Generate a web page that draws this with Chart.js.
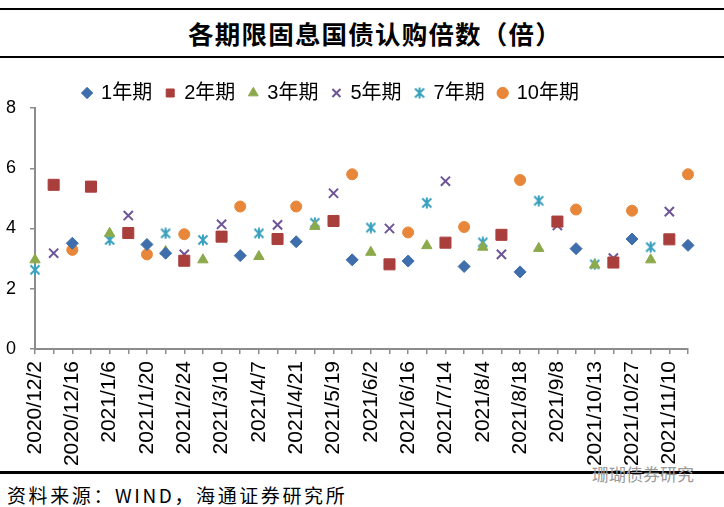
<!DOCTYPE html>
<html>
<head>
<meta charset="utf-8">
<script src="https://cdn.jsdelivr.net/npm/chart.js@4.4.0/dist/chart.umd.min.js"></script>
<style>
  body { margin: 0; background: #fff; }
  #wrap { position: relative; width: 724px; height: 507px; overflow: hidden; font-family: "Noto Sans CJK SC", sans-serif; }
  .rule { position: absolute; left: 0; width: 724px; background: #000; }
  #title { position: absolute; top: 16px; left: 13px; width: 724px; text-align: center; font-size: 25.5px; font-weight: bold; line-height: 34px; letter-spacing: 1.2px; color: #000; }
  #source { position: absolute; top: 481px; left: 7px; font-size: 19px; line-height: 28px; letter-spacing: 2.6px; color: #000; white-space: nowrap; }
  #mark { position: absolute; top: 462px; left: 592px; font-size: 17px; line-height: 24px; color: #9a9a9a; white-space: nowrap; }
  canvas { position: absolute; left: 0; top: 0; }
</style>
</head>
<body>
<div id="wrap">
  <div class="rule" style="top:8px;height:2px"></div>
  <div id="title">各期限固息国债认购倍数（倍）</div>
  <div class="rule" style="top:56px;height:2px"></div>
  <div class="rule" style="top:471px;height:3px"></div>
  <div id="mark">珊瑚债券研究</div>
  <div id="source">资料来源：WIND，海通证券研究所</div>
  <canvas id="chart" width="724" height="507"></canvas>
</div>
<script>
// auction dates (only every other one is labelled on the axis)
const dates = [
  "2020/12/2", "2020/12/9", "2020/12/16", "2020/12/23", "2021/1/6", "2021/1/13",
  "2021/1/20", "2021/2/3", "2021/2/24", "2021/3/3", "2021/3/10", "2021/3/24",
  "2021/4/7", "2021/4/14", "2021/4/21", "2021/5/12", "2021/5/19", "2021/5/26",
  "2021/6/2", "2021/6/9", "2021/6/16", "2021/7/7", "2021/7/14", "2021/7/21",
  "2021/8/4", "2021/8/11", "2021/8/18", "2021/8/25", "2021/9/8", "2021/9/15",
  "2021/10/13", "2021/10/20", "2021/10/27", "2021/11/3", "2021/11/10", "2021/11/17"
];

const y1 = [null, null, 3.51, null, null, null, 3.47, 3.18, null, null, null, 3.10,
            null, null, 3.56, null, null, 2.96, null, null, 2.92, null, null, 2.74,
            null, null, 2.56, null, null, 3.33, null, null, 3.65, null, null, 3.44];
const y2 = [null, 5.45, null, 5.39, null, 3.85, null, null, 2.93, null, 3.73, null,
            null, 3.65, null, null, 4.25, null, null, 2.81, null, null, 3.53, null,
            null, 3.79, null, null, 4.23, null, null, 2.87, null, null, 3.64, null];
const y3 = [2.96, null, null, null, 3.84, null, null, 3.24, null, 2.96, null, null,
            3.07, null, null, 4.07, null, null, 3.21, null, null, 3.43, null, null,
            3.38, null, null, 3.34, null, null, 2.79, null, null, 2.96, null, null];
const y5 = [null, 3.18, null, null, null, 4.43, null, null, 3.14, null, 4.14, null,
            null, 4.12, null, null, 5.17, null, null, 4.00, null, null, 5.57, null,
            null, 3.14, null, null, 4.10, null, null, 3.02, null, null, 4.56, null];
const y7 = [2.63, null, null, null, 3.62, null, null, 3.84, null, 3.62, null, null,
            3.84, null, null, 4.19, null, null, 4.03, null, null, 4.85, null, null,
            3.54, null, null, 4.92, null, null, 2.81, null, null, 3.38, null, null];
const y10 = [null, null, 3.29, null, null, null, 3.14, null, 3.81, null, null, 4.73,
             null, null, 4.73, null, null, 5.80, null, null, 3.87, null, null, 4.05,
             null, null, 5.61, null, null, 4.63, null, null, 4.59, null, null, 5.80];

const yTicks = [0, 2, 4, 6, 8];

// excel style star marker: x plus a vertical bar
function starMarker(color) {
  const c = document.createElement('canvas');
  c.width = 12; c.height = 12;
  const g = c.getContext('2d');
  g.strokeStyle = color;
  g.lineWidth = 2;
  g.beginPath();
  g.moveTo(1.5, 1.5); g.lineTo(10.5, 10.5);
  g.moveTo(10.5, 1.5); g.lineTo(1.5, 10.5);
  g.moveTo(6, 0.5); g.lineTo(6, 11.5);
  g.stroke();
  return c;
}

function series(label, data, color, style, radius, bw) {
  return {
    label: label,
    data: data,
    showLine: false,
    pointStyle: style,
    pointRadius: radius,
    pointHoverRadius: radius,
    pointBorderWidth: bw,
    backgroundColor: color,
    borderColor: color
  };
}

// the legend in the original sits a little left of centre
const legendShift = {
  id: 'legendShift',
  afterLayout(chart) {
    if (chart.legend) {
      chart.legend.left -= 13;
      chart.legend.right -= 13;
    }
  }
};

const grey = '#8c8c8c';
const latin = '"Liberation Sans", Arial, sans-serif';

const ctx = document.getElementById('chart').getContext('2d');
const chart = new Chart(ctx, {
  type: 'line',
  data: {
    labels: dates,
    datasets: [
      series('1年期', y1, '#3f6ead', 'rectRot', 6, 1),
      series('2年期', y2, '#a93f3c', 'rect', 7.8, 1),
      series('3年期', y3, '#8caa4c', 'triangle', 6, 1),
      series('5年期', y5, '#6e5597', 'crossRot', 6.5, 2),
      series('7年期', y7, '#39a0bd', starMarker('#39a0bd'), 6, 2),
      series('10年期', y10, '#e8873a', 'circle', 5.5, 1)
    ]
  },
  plugins: [legendShift],
  options: {
    responsive: false,
    animation: false,
    layout: {
      padding: { top: 69, right: 36, left: 0, bottom: 0 }
    },
    scales: {
      x: {
        offset: false,
        grid: {
          drawOnChartArea: false,
          tickLength: 5,
          color: grey,
          lineWidth: 1.5
        },
        border: { color: grey, width: 2 },
        ticks: {
          autoSkip: false,
          minRotation: 90,
          maxRotation: 90,
          padding: 7,
          color: '#000',
          font: { family: latin, size: 21 },
          callback: (v, i) => (i % 2 === 0 ? dates[i] : '')
        },
        afterFit: (s) => { s.height = 158; }
      },
      y: {
        min: yTicks[0],
        max: yTicks[yTicks.length - 1],
        afterBuildTicks: (s) => { s.ticks = yTicks.map(v => ({ value: v })); },
        grid: {
          drawOnChartArea: false,
          tickLength: 5,
          color: grey,
          lineWidth: 1.5
        },
        border: { color: grey, width: 2 },
        ticks: {
          padding: 14,
          color: '#000',
          font: { family: latin, size: 18 }
        },
        afterFit: (s) => { s.width = 35; }
      }
    },
    plugins: {
      legend: {
        position: 'top',
        maxHeight: 39,
        labels: {
          usePointStyle: true,
          boxWidth: 8,
          boxHeight: 8,
          padding: 14,
          color: '#000',
          font: { family: '"Liberation Sans", "Noto Sans CJK SC", sans-serif', size: 20 }
        }
      },
      tooltip: { enabled: false }
    }
  }
});
</script>
</body>
</html>
